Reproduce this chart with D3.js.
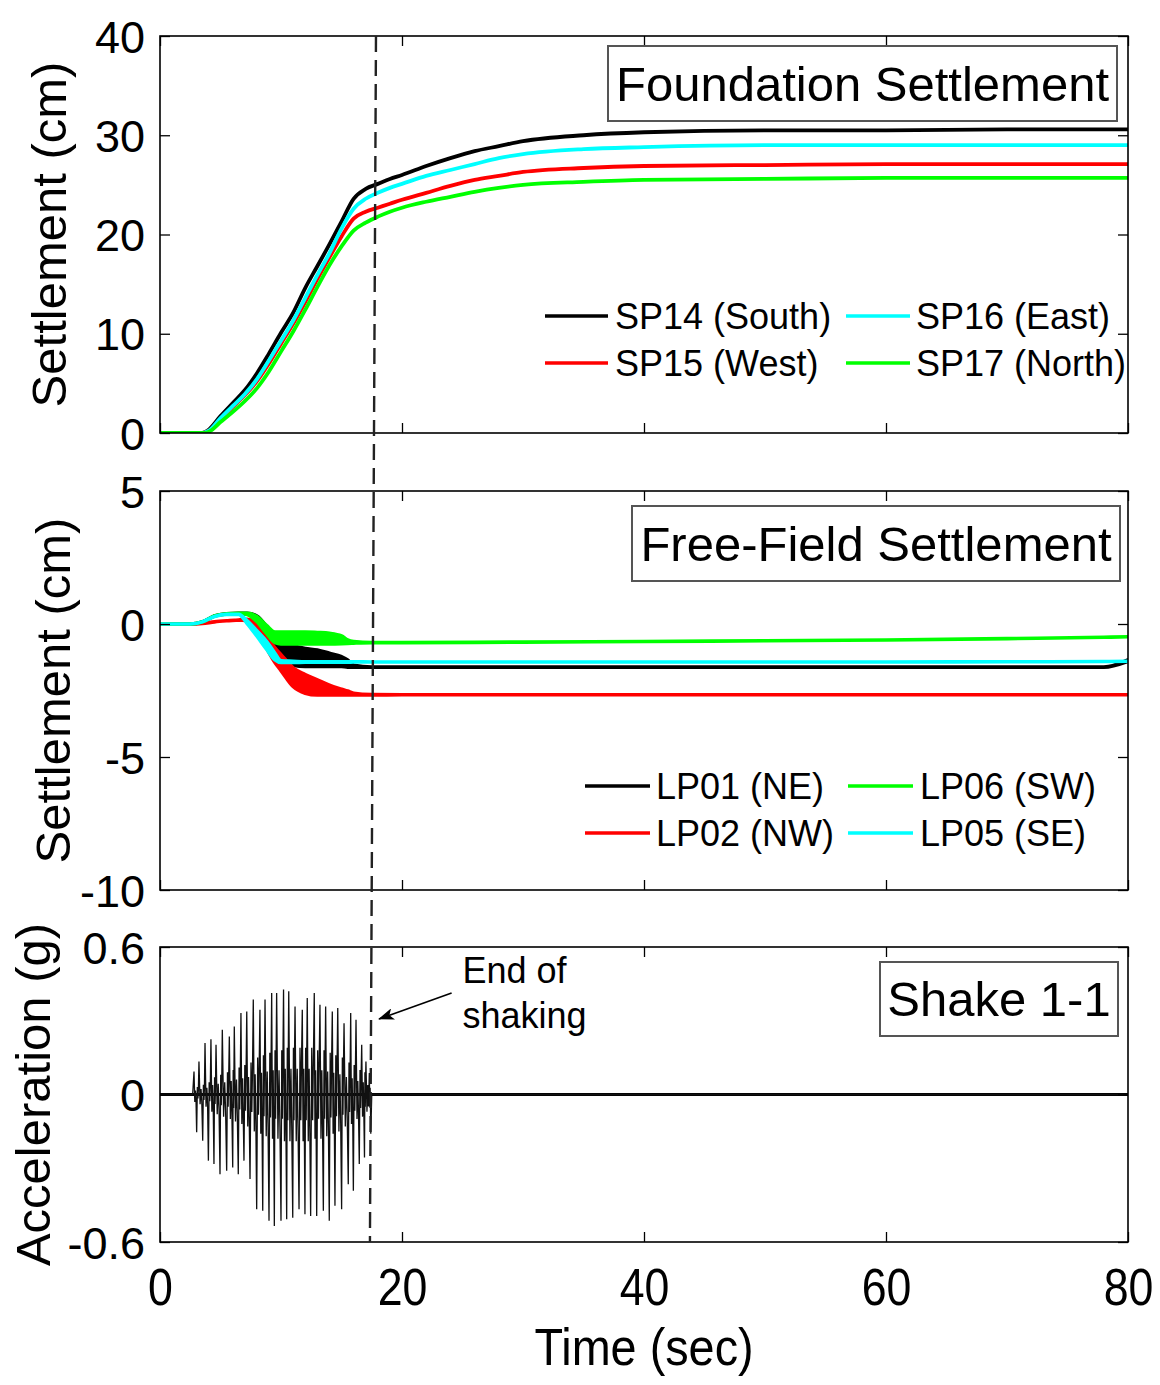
<!DOCTYPE html>
<html>
<head>
<meta charset="utf-8">
<script src="https://cdn.jsdelivr.net/npm/d3@7"></script>
<style>
  body { margin: 0; background: #fff; }
  svg { display: block; }
  text { font-family: "Liberation Sans", Arial, Helvetica, sans-serif; fill: #000; }
</style>
</head>
<body>
<svg id="chart" width="1160" height="1385"></svg>
<script>
// ---------------- Foundation settlement (cm) ----------------
const settleTime = [0, 3.5, 4, 5, 6, 7, 8, 9, 10, 11, 12, 13, 14, 15, 16, 17, 18, 19, 20, 22, 24, 26, 28, 30, 35, 40, 50, 60, 70, 80];
const sp14 = [0, 0, 0.3, 1.7, 3.0, 4.3, 6.0, 8.0, 10.1, 12.1, 14.6, 16.8, 19.0, 21.3, 23.6, 24.6, 25.1, 25.6, 26.0, 26.9, 27.7, 28.4, 28.9, 29.4, 30.0, 30.3, 30.5, 30.5, 30.6, 30.6];
const sp15 = [0, 0, 0.2, 1.4, 2.6, 3.8, 5.2, 7.0, 9.0, 11.0, 13.2, 15.5, 17.7, 19.8, 21.6, 22.3, 22.7, 23.1, 23.5, 24.2, 24.9, 25.5, 25.9, 26.3, 26.7, 26.9, 27.0, 27.1, 27.1, 27.1];
const sp16 = [0, 0, 0.2, 1.5, 2.7, 3.9, 5.4, 7.3, 9.3, 11.3, 13.6, 15.9, 18.1, 20.6, 22.6, 23.6, 24.2, 24.7, 25.1, 25.9, 26.5, 27.1, 27.7, 28.1, 28.6, 28.8, 29.0, 29.0, 29.0, 29.0];
const sp17 = [0, 0, 0.1, 1.1, 2.1, 3.2, 4.5, 6.2, 8.2, 10.2, 12.4, 14.7, 16.9, 18.8, 20.4, 21.2, 21.8, 22.3, 22.7, 23.3, 23.8, 24.3, 24.7, 25.0, 25.3, 25.5, 25.6, 25.7, 25.7, 25.7];

// ---------------- Free-field settlement (cm): lower / upper envelope ----------------
const ffTime = [0, 2.5, 3.5, 4.5, 5.5, 6.5, 7.2, 8, 8.8, 9.5, 10, 11, 12, 13, 14, 15, 15.5, 16, 17.5, 20, 30, 40, 50, 60, 70, 78, 80];
const lp01Lo = [0, 0, 0.08, 0.3, 0.38, 0.4, 0.38, 0.15, -0.45, -1.1, -1.35, -1.55, -1.6, -1.6, -1.6, -1.6, -1.62, -1.62, -1.62, -1.62, -1.62, -1.62, -1.62, -1.62, -1.62, -1.62, -1.4];
const lp01Hi = [0, 0, 0.08, 0.3, 0.38, 0.4, 0.4, 0.3, -0.1, -0.6, -0.72, -0.82, -0.92, -0.98, -1.1, -1.23, -1.35, -1.55, -1.62, -1.62, -1.62, -1.62, -1.62, -1.62, -1.62, -1.62, -1.35];
const lp02Lo = [0, 0, 0.02, 0.08, 0.12, 0.15, 0.12, -0.2, -0.9, -1.45, -1.75, -2.35, -2.6, -2.67, -2.67, -2.67, -2.67, -2.67, -2.67, -2.66, -2.66, -2.66, -2.66, -2.66, -2.66, -2.66, -2.66];
const lp02Hi = [0, 0, 0.02, 0.08, 0.12, 0.15, 0.18, 0.05, -0.45, -0.9, -1.15, -1.65, -1.9, -2.1, -2.3, -2.45, -2.52, -2.6, -2.65, -2.66, -2.66, -2.66, -2.66, -2.66, -2.66, -2.66, -2.66];
const lp06Lo = [0, 0, 0.08, 0.3, 0.38, 0.4, 0.36, 0.1, -0.35, -0.7, -0.75, -0.75, -0.75, -0.75, -0.75, -0.74, -0.73, -0.72, -0.7, -0.7, -0.68, -0.66, -0.63, -0.6, -0.55, -0.5, -0.48];
const lp06Hi = [0, 0, 0.08, 0.3, 0.38, 0.4, 0.4, 0.28, -0.05, -0.3, -0.3, -0.3, -0.3, -0.32, -0.35, -0.45, -0.6, -0.66, -0.7, -0.7, -0.68, -0.66, -0.63, -0.6, -0.55, -0.5, -0.48];
const lp05Lo = [0, 0, 0.08, 0.28, 0.36, 0.36, 0.02, -0.45, -0.95, -1.35, -1.45, -1.45, -1.44, -1.44, -1.44, -1.44, -1.44, -1.43, -1.43, -1.43, -1.43, -1.43, -1.43, -1.43, -1.42, -1.41, -1.4];
const lp05Hi = [0, 0, 0.08, 0.28, 0.36, 0.36, 0.12, -0.25, -0.65, -1.1, -1.38, -1.4, -1.42, -1.42, -1.42, -1.42, -1.42, -1.42, -1.43, -1.43, -1.43, -1.43, -1.43, -1.43, -1.42, -1.41, -1.4];

// ---------------- Base acceleration, Shake 1-1 (g) ----------------
const peakTime = [2.81, 3.22, 3.72, 4.21, 4.63, 5.15, 5.73, 6.14, 6.69, 7.17, 7.71, 8.26, 8.68, 9.23, 9.64, 10.21, 10.64, 11.16, 11.76, 12.17, 12.75, 13.22, 13.69, 14.24, 14.69, 15.21, 15.76, 16.2, 16.67, 17.02, 17.3];
const peakAcc = [0.093, 0.134, 0.209, 0.225, 0.202, 0.263, 0.236, 0.277, 0.331, 0.338, 0.386, 0.345, 0.386, 0.413, 0.413, 0.427, 0.42, 0.358, 0.345, 0.393, 0.413, 0.365, 0.358, 0.338, 0.352, 0.29, 0.331, 0.304, 0.202, 0.134, 0.087];
const troughTime = [3.03, 3.53, 4.0, 4.46, 4.96, 5.51, 6.01, 6.47, 6.94, 7.44, 7.99, 8.49, 9.01, 9.45, 10.0, 10.47, 10.97, 11.49, 11.98, 12.45, 12.95, 13.5, 13.99, 14.46, 15.01, 15.56, 15.98, 16.47, 16.9, 17.42];
const troughAcc = [-0.154, -0.188, -0.269, -0.283, -0.324, -0.31, -0.297, -0.324, -0.269, -0.344, -0.467, -0.473, -0.514, -0.535, -0.514, -0.507, -0.501, -0.467, -0.487, -0.494, -0.494, -0.473, -0.514, -0.453, -0.467, -0.365, -0.392, -0.283, -0.256, -0.16];
// amplitude of the dense inner oscillation following each positive peak
const coreAcc = [0.03, 0.04, 0.05, 0.07, 0.08, 0.09, 0.1, 0.11, 0.12, 0.13, 0.15, 0.16, 0.17, 0.18, 0.18, 0.19, 0.19, 0.19, 0.19, 0.19, 0.18, 0.18, 0.17, 0.16, 0.15, 0.13, 0.12, 0.1, 0.09, 0.07, 0.05];
const shakeStart = 2.7, shakeEnd = 17.5, recordEnd = 80;

// end-of-shaking marker (time at top and bottom of the figure)
const endShakeTop = 17.85, endShakeBottom = 17.35;

// ---------------- labels ----------------
const timeTicks = [0, 20, 40, 60, 80];
const foundTicks = [0, 10, 20, 30, 40];
const ffTicks = [-10, -5, 0, 5];
const accTicks = [-0.6, 0, 0.6];

const foundSeries = [
  { name: "SP14 (South)", color: "#000000", values: sp14 },
  { name: "SP15 (West)",  color: "#ff0000", values: sp15 },
  { name: "SP16 (East)",  color: "#00ffff", values: sp16 },
  { name: "SP17 (North)", color: "#00ff00", values: sp17 }
];
const ffSeries = [
  { name: "LP01 (NE)", color: "#000000", lo: lp01Lo, hi: lp01Hi },
  { name: "LP02 (NW)", color: "#ff0000", lo: lp02Lo, hi: lp02Hi },
  { name: "LP06 (SW)", color: "#00ff00", lo: lp06Lo, hi: lp06Hi },
  { name: "LP05 (SE)", color: "#00ffff", lo: lp05Lo, hi: lp05Hi }
];

// ---------------- layout ----------------
const svg = d3.select("#chart");
const FONT = '"Liberation Sans", Arial, Helvetica, sans-serif';
const x = d3.scaleLinear().domain([0, 80]).range([160, 1128]);
const xL = x.range()[0], xR = x.range()[1];

const panels = [
  { id: "found", y: d3.scaleLinear().domain([0, 40]).range([433, 36]), ticks: foundTicks,
    ylabel: "Settlement (cm)", ylabelX: 66, title: "Foundation Settlement",
    box: { x: 608, y: 46, w: 509, h: 75 } },
  { id: "ff", y: d3.scaleLinear().domain([-10, 5]).range([890, 491]), ticks: ffTicks,
    ylabel: "Settlement (cm)", ylabelX: 70, title: "Free-Field Settlement",
    box: { x: 632, y: 506, w: 488, h: 75 } },
  { id: "acc", y: d3.scaleLinear().domain([-0.6, 0.6]).range([1242, 947]), ticks: accTicks,
    ylabel: "Acceleration (g)", ylabelX: 50, title: "Shake 1-1",
    box: { x: 880, y: 962, w: 238, h: 74 } }
];

const defs = svg.append("defs");
panels.forEach(p => {
  const [yB, yT] = p.y.range();
  defs.append("clipPath").attr("id", "clip-" + p.id)
    .append("rect").attr("x", xL).attr("y", yT).attr("width", xR - xL).attr("height", yB - yT);
});
defs.append("marker").attr("id", "arrowhead")
  .attr("viewBox", "0 0 16 12").attr("refX", 15).attr("refY", 6)
  .attr("markerWidth", 16).attr("markerHeight", 12).attr("markerUnits", "userSpaceOnUse")
  .attr("orient", "auto")
  .append("path").attr("d", "M0,0 L16,6 L0,12 L4,6 Z").attr("fill", "#000");

// ---------------- axes ----------------
function drawAxes(p, showXLabels) {
  const [yB, yT] = p.y.range();
  const g = svg.append("g");
  const left = g.append("g").attr("transform", `translate(${xL},0)`)
    .call(d3.axisLeft(p.y).tickValues(p.ticks).tickSize(-10).tickPadding(15).tickFormat(d => String(d)));
  left.selectAll("text").style("font-size", "45px").style("font-family", FONT).attr("dy", "0.36em");
  g.append("g").attr("transform", `translate(${xR},0)`)
    .call(d3.axisRight(p.y).tickValues(p.ticks).tickSize(-10).tickFormat(""));
  g.append("g").attr("transform", `translate(0,${yT})`)
    .call(d3.axisTop(x).tickValues(timeTicks).tickSize(-10).tickFormat(""));
  const bottom = g.append("g").attr("transform", `translate(0,${yB})`)
    .call(d3.axisBottom(x).tickValues(timeTicks).tickSize(-10).tickPadding(26)
      .tickFormat(showXLabels ? (d => String(d)) : ""));
  bottom.selectAll("text").style("font-size", "52px").style("font-family", FONT)
    .attr("transform", "scale(0.86,1)");
  g.selectAll(".domain").remove();
  g.selectAll(".tick line").attr("stroke", "#000").attr("stroke-width", 1.3);
  g.append("rect").attr("x", xL).attr("y", yT).attr("width", xR - xL).attr("height", yB - yT)
    .attr("fill", "none").attr("stroke", "#000").attr("stroke-width", 1.6);
  // y label
  svg.append("text")
    .attr("transform", `translate(${p.ylabelX},${(yB + yT) / 2}) rotate(-90)`)
    .attr("text-anchor", "middle").style("font-size", "49px").text(p.ylabel);
}

function drawTitle(p) {
  const b = p.box;
  svg.append("rect").attr("x", b.x).attr("y", b.y).attr("width", b.w).attr("height", b.h)
    .attr("fill", "#fff").attr("stroke", "#555").attr("stroke-width", 2);
  svg.append("text").attr("x", b.x + b.w / 2).attr("y", b.y + b.h / 2 + 17)
    .attr("text-anchor", "middle").style("font-size", "49px").text(p.title);
}

// ---------------- panel 1: foundation settlement ----------------
const pF = panels[0];
const gF = svg.append("g").attr("clip-path", "url(#clip-found)");
const lineF = d3.line().x((d, i) => x(settleTime[i])).y(d => pF.y(d)).curve(d3.curveMonotoneX);
foundSeries.forEach(s => {
  gF.append("path").datum(s.values).attr("d", lineF)
    .attr("fill", "none").attr("stroke", s.color).attr("stroke-width", 3.8).attr("stroke-linejoin", "round");
});

// ---------------- panel 2: free-field settlement ----------------
const pFF = panels[1];
const gFF = svg.append("g").attr("clip-path", "url(#clip-ff)");
const areaFF = d3.area()
  .x(d => x(d.t)).y0(d => pFF.y(d.lo)).y1(d => pFF.y(d.hi)).curve(d3.curveMonotoneX);
ffSeries.forEach(s => {
  const rows = ffTime.map((t, i) => ({ t, lo: s.lo[i], hi: s.hi[i] }));
  gFF.append("path").datum(rows).attr("d", areaFF)
    .attr("fill", s.color).attr("stroke", s.color).attr("stroke-width", 3.6).attr("stroke-linejoin", "round");
});

// ---------------- panel 3: acceleration ----------------
const pA = panels[2];
const gA = svg.append("g").attr("clip-path", "url(#clip-acc)");
// extremes in time order, with the inner oscillation between consecutive extremes
const extremes = peakTime.map((t, i) => ({ t, a: peakAcc[i], core: coreAcc[i] }))
  .concat(troughTime.map((t, i) => ({ t, a: troughAcc[i], core: null })))
  .sort((a, b) => a.t - b.t);
let lastCore = coreAcc[0];
const accPts = [{ t: 0, a: 0 }, { t: shakeStart, a: 0 }];
extremes.forEach((e, k) => {
  if (e.core !== null) lastCore = e.core;
  accPts.push({ t: e.t, a: e.a });
  const nxt = extremes[k + 1];
  if (nxt) {
    const dt = nxt.t - e.t;
    const sgn = e.a > 0 ? -1 : 1;
    accPts.push({ t: e.t + dt * 0.3, a: sgn * lastCore });
    accPts.push({ t: e.t + dt * 0.55, a: -sgn * lastCore * 0.55 });
    accPts.push({ t: e.t + dt * 0.75, a: sgn * lastCore * 0.7 });
  }
});
accPts.push({ t: shakeEnd, a: 0 }, { t: recordEnd, a: 0 });
gA.append("line").attr("x1", x(0)).attr("x2", x(recordEnd)).attr("y1", pA.y(0)).attr("y2", pA.y(0))
  .attr("stroke", "#000").attr("stroke-width", 3.2);
gA.append("path").datum(accPts)
  .attr("d", d3.line().x(d => x(d.t)).y(d => pA.y(d.a)))
  .attr("fill", "none").attr("stroke", "#111").attr("stroke-width", 1.3).attr("stroke-linejoin", "miter");

// axes, titles
panels.forEach((p, i) => drawAxes(p, i === panels.length - 1));
panels.forEach(drawTitle);

// ---------------- legends ----------------
function drawLegend(series, cols, rows, fontSize) {
  series.forEach((s, i) => {
    const c = Math.floor(i / 2), r = i % 2;
    const ly = rows[r];
    svg.append("line").attr("x1", cols[c].x0).attr("x2", cols[c].x1).attr("y1", ly).attr("y2", ly)
      .attr("stroke", s.color).attr("stroke-width", 3.6);
    svg.append("text").attr("x", cols[c].tx).attr("y", ly + 13).style("font-size", fontSize + "px").text(s.name);
  });
}
drawLegend(foundSeries, [{ x0: 545, x1: 608, tx: 615 }, { x0: 846, x1: 910, tx: 916 }], [316, 363], 36);
drawLegend(ffSeries, [{ x0: 585, x1: 650, tx: 656 }, { x0: 848, x1: 913, tx: 920 }], [786, 833], 36);

// ---------------- end of shaking marker ----------------
const yTopAll = panels[0].y.range()[1], yBotAll = panels[2].y.range()[0];
svg.append("line")
  .attr("x1", x(endShakeTop)).attr("y1", yTopAll).attr("x2", x(endShakeBottom)).attr("y2", yBotAll)
  .attr("stroke", "#222").attr("stroke-width", 2.4).attr("stroke-dasharray", "16,8");

// annotation
const annTail = { t: 24.1, a: 0.413 }, annTip = { t: 18.1, a: 0.307 };
svg.append("line")
  .attr("x1", x(annTail.t)).attr("y1", pA.y(annTail.a)).attr("x2", x(annTip.t)).attr("y2", pA.y(annTip.a))
  .attr("stroke", "#000").attr("stroke-width", 1.6).attr("marker-end", "url(#arrowhead)");
svg.append("text").attr("x", x(25.0)).attr("y", pA.y(0.455)).style("font-size", "36px").text("End of");
svg.append("text").attr("x", x(25.0)).attr("y", pA.y(0.271)).style("font-size", "36px").text("shaking");

// x label
svg.append("text").attr("transform", `translate(${(xL + xR) / 2},1365) scale(0.9,1)`)
  .attr("text-anchor", "middle").style("font-size", "52px").text("Time (sec)");
</script>
</body>
</html>
